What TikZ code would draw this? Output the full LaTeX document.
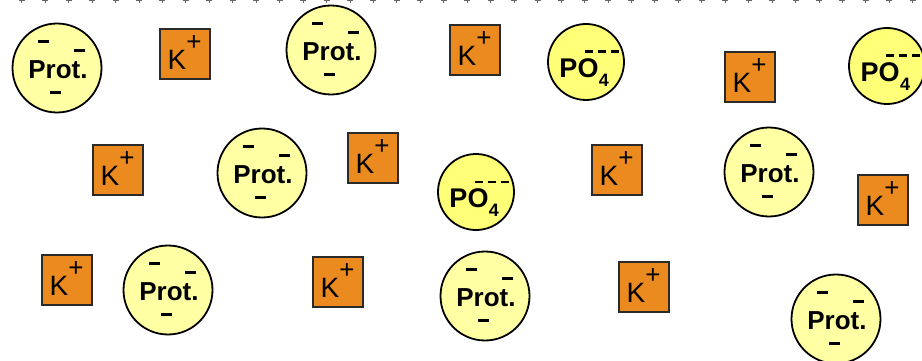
\documentclass[tikz,border=0pt]{standalone}
\usepackage{fontspec}
\setmainfont{Liberation Sans}
\definecolor{protfill}{HTML}{FFFFA3}
\definecolor{pofill}{HTML}{FFFF78}
\definecolor{korange}{HTML}{EB8A1E}
\definecolor{kdraw}{HTML}{2A2A2A}
\tikzset{
  protball/.style={circle, draw=black, line width=1.8pt, fill=protfill, minimum size=89pt, inner sep=0pt},
  poball/.style={circle, draw=black, line width=1.8pt, fill=pofill, minimum size=76pt, inner sep=0pt},
  kbox/.style={rectangle, draw=kdraw, line width=1.8pt, fill=korange, minimum width=50pt, minimum height=50pt, inner sep=0pt},
  charge/.style={fill=black},
  lbl/.style={inner sep=0pt, text=black},
  tick/.style={draw=gray!80!black, line width=0.9pt}
}
\newcommand\ProtBall[3]{%
  \node[protball] (#1) at (#2,#3) {};
  \node[lbl, font=\bfseries\fontsize{26}{26}\selectfont] (#1t) at ([shift={(1,2)}]#1.center) {Prot.};
  \fill[charge] ([shift={(-19,-28)}]#1.center) rectangle ([shift={(-8,-25)}]#1.center);
  \fill[charge] ([shift={(17,-19)}]#1.center) rectangle ([shift={(28,-16)}]#1.center);
  \fill[charge] ([shift={(-7,23)}]#1.center) rectangle ([shift={(4,26)}]#1.center);
}
\newcommand\POBall[3]{%
  \node[poball] (#1) at (#2,#3) {};
  \node[lbl, font=\bfseries\fontsize{27}{27}\selectfont] (#1t) at ([shift={(-7,6)}]#1.center) {PO};
  \node[lbl, font=\bfseries\fontsize{18}{18}\selectfont] (#1s) at ([shift={(18,18)}]#1.center) {4};
  \fill[charge] ([shift={(-1,-11.5)}]#1.center) rectangle ([shift={(7,-9)}]#1.center);
  \fill[charge] ([shift={(12,-11.5)}]#1.center) rectangle ([shift={(20,-9)}]#1.center);
  \fill[charge] ([shift={(25,-11.5)}]#1.center) rectangle ([shift={(33,-9)}]#1.center);
}
\newcommand\KBox[3]{%
  \node[kbox] (#1) at (#2,#3) {};
  \node[lbl, font=\fontsize{28}{28}\selectfont] (#1t) at ([shift={(-8,6)}]#1.center) {K};
  \node[lbl, font=\fontsize{26}{26}\selectfont] (#1p) at ([shift={(9,-11)}]#1.center) {+};
}
\begin{document}
\begin{tikzpicture}[x=1pt,y=-1pt]
  \useasboundingbox (0,0) rectangle (922,361);
  \fill[white] (0,0) rectangle (922,361);
  \foreach \i in {0,...,38} {
    \draw[tick] ({21.7+23.45*\i-3},0.8) -- ({21.7+23.45*\i+3},0.8);
    \draw[tick] ({21.7+23.45*\i},0) -- ({21.7+23.45*\i},3);
  }
  % proteins
  \ProtBall{p1}{57}{68}
  \ProtBall{p2}{331}{50}
  \ProtBall{p3}{262}{173}
  \ProtBall{p4}{769}{172}
  \ProtBall{p5}{168}{290}
  \ProtBall{p6}{485}{296}
  \ProtBall{p7}{836}{319}
  % phosphates
  \POBall{q1}{586}{62}
  \POBall{q2}{887}{66}
  \POBall{q3}{476}{192}
  % potassium
  \KBox{k1}{185}{54}
  \KBox{k2}{475}{50}
  \KBox{k3}{750}{77}
  \KBox{k4}{118}{170}
  \KBox{k5}{373}{158}
  \KBox{k6}{617}{170}
  \KBox{k7}{883}{200}
  \KBox{k8}{67}{280}
  \KBox{k9}{338}{282}
  \KBox{k10}{644}{287}
\end{tikzpicture}
\end{document}
